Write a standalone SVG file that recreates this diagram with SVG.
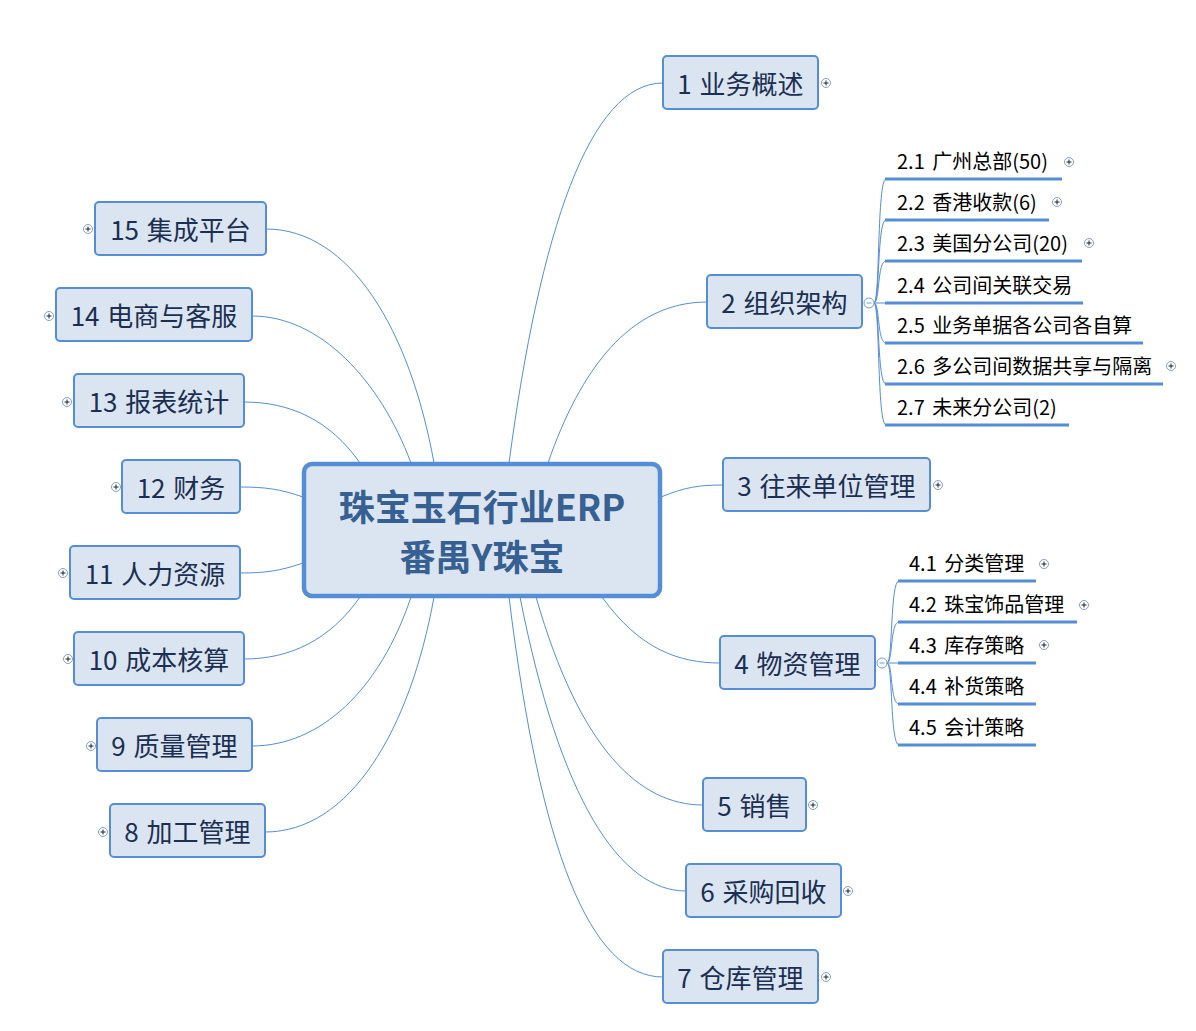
<svg xmlns="http://www.w3.org/2000/svg" xmlns:xlink="http://www.w3.org/1999/xlink" width="1196" height="1031" viewBox="0 0 1196 1031">
<style>
.bg{fill:#ffffff}
.box{fill:#dbe5f1;stroke:#558ed5;stroke-width:2}
.root{fill:#dbe5f1;stroke:#558ed5;stroke-width:4.5}
.rt{font-family:"Noto Sans CJK SC","Microsoft YaHei",sans-serif;font-weight:bold;font-size:36px;fill:#376092;text-anchor:middle}
.nt{font-family:"Noto Sans CJK SC","Microsoft YaHei",sans-serif;font-size:26px;fill:#1b2f52;text-anchor:middle;word-spacing:2px}
.st{font-family:"Noto Sans CJK SC","Microsoft YaHei",sans-serif;font-size:20px;fill:#000000;word-spacing:3px}
.con{fill:none;stroke:#558ed5;stroke-width:1}
.ul{stroke:#558ed5;stroke-width:3}
</style>
<defs>
<g id="plus"><circle r="4.5" fill="#ffffff" stroke="#7f9fcc" stroke-width="1"/><path d="M-2.5,0H2.5M0,-2.5V2.5" stroke="#222222" stroke-width="1"/></g>
<g id="minus"><circle r="5" fill="#ffffff" stroke="#6f9bd6" stroke-width="1"/><path d="M-2.5,0H2.5" stroke="#6f9bd6" stroke-width="1"/></g>
</defs>
<rect class="bg" x="0" y="0" width="1196" height="1031"/>
<g id="connectors">
<path class="con" d="M509,463 C540,230 590,83 663,83"/>
<path class="con" d="M548,463 C580,370 630,302 707,302"/>
<path class="con" d="M661,497 C685,487 700,485 723,485"/>
<path class="con" d="M602,597 C640,650 680,663 720,663"/>
<path class="con" d="M536,597 C580,750 640,805 703,805"/>
<path class="con" d="M520,597 C560,800 620,891 686,891"/>
<path class="con" d="M509,597 C540,850 590,977 663,977"/>
<path class="con" d="M434,463 C410,330 350,229 266,229"/>
<path class="con" d="M411,463 C380,380 320,316 252,316"/>
<path class="con" d="M360,463 C330,420 290,402 244,402"/>
<path class="con" d="M303,497 C280,489 265,487 240,487"/>
<path class="con" d="M303,563 C280,571 265,573 240,573"/>
<path class="con" d="M360,597 C330,640 290,659 244,659"/>
<path class="con" d="M411,597 C380,690 320,746 252,746"/>
<path class="con" d="M434,597 C410,730 350,832 265,832"/>
<path class="con" d="M874,303 C880,303 877,179 886,179"/>
<path class="con" d="M874,303 C880,303 877,220 886,220"/>
<path class="con" d="M874,303 C880,303 877,261 886,261"/>
<path class="con" d="M874,303 L886,303"/>
<path class="con" d="M874,303 C880,303 877,343 886,343"/>
<path class="con" d="M874,303 C880,303 877,384 886,384"/>
<path class="con" d="M874,303 C880,303 877,425 886,425"/>
<path class="con" d="M887,663 C893,663 890,581 899,581"/>
<path class="con" d="M887,663 C893,663 890,622 899,622"/>
<path class="con" d="M887,663 L899,663"/>
<path class="con" d="M887,663 C893,663 890,704 899,704"/>
<path class="con" d="M887,663 C893,663 890,745 899,745"/>
</g>
<g id="root">
<rect class="root" x="304" y="464" width="356" height="132" rx="8"/>
<text class="rt" x="482" y="521">珠宝玉石行业ERP</text>
<text class="rt" x="482" y="571">番禺Y珠宝</text>
</g>
<g id="n1"><rect class="box" x="663" y="56" width="155" height="53" rx="4"/><text class="nt" x="740.5" y="94">1 业务概述</text><use xlink:href="#plus" x="826" y="83"/></g>
<g id="n2"><rect class="box" x="707" y="275" width="155" height="53" rx="4"/><text class="nt" x="784.5" y="313">2 组织架构</text><use xlink:href="#minus" x="869" y="303"/></g>
<g id="n3"><rect class="box" x="723" y="458" width="207" height="53" rx="4"/><text class="nt" x="826.5" y="496">3 往来单位管理</text><use xlink:href="#plus" x="938" y="485"/></g>
<g id="n4"><rect class="box" x="720" y="636" width="155" height="53" rx="4"/><text class="nt" x="797.5" y="674">4 物资管理</text><use xlink:href="#minus" x="882" y="663"/></g>
<g id="n5"><rect class="box" x="703" y="778" width="103" height="53" rx="4"/><text class="nt" x="754.5" y="816">5 销售</text><use xlink:href="#plus" x="813" y="805"/></g>
<g id="n6"><rect class="box" x="686" y="864" width="155" height="53" rx="4"/><text class="nt" x="763.5" y="902">6 采购回收</text><use xlink:href="#plus" x="848" y="891"/></g>
<g id="n7"><rect class="box" x="663" y="950" width="155" height="53" rx="4"/><text class="nt" x="740.5" y="988">7 仓库管理</text><use xlink:href="#plus" x="826" y="977"/></g>
<g id="n8"><rect class="box" x="110" y="804" width="155" height="53" rx="4"/><text class="nt" x="187.5" y="842">8 加工管理</text><use xlink:href="#plus" x="103" y="832"/></g>
<g id="n9"><rect class="box" x="97" y="718" width="155" height="53" rx="4"/><text class="nt" x="174.5" y="756">9 质量管理</text><use xlink:href="#plus" x="91" y="746"/></g>
<g id="n10"><rect class="box" x="74" y="632" width="170" height="53" rx="4"/><text class="nt" x="159" y="670">10 成本核算</text><use xlink:href="#plus" x="68" y="659"/></g>
<g id="n11"><rect class="box" x="70" y="546" width="170" height="53" rx="4"/><text class="nt" x="155" y="584">11 人力资源</text><use xlink:href="#plus" x="63" y="573"/></g>
<g id="n12"><rect class="box" x="122" y="460" width="118" height="53" rx="4"/><text class="nt" x="181" y="498">12 财务</text><use xlink:href="#plus" x="116" y="487"/></g>
<g id="n13"><rect class="box" x="74" y="374" width="170" height="53" rx="4"/><text class="nt" x="159" y="412">13 报表统计</text><use xlink:href="#plus" x="67" y="402"/></g>
<g id="n14"><rect class="box" x="56" y="288" width="196" height="53" rx="4"/><text class="nt" x="154" y="326">14 电商与客服</text><use xlink:href="#plus" x="49" y="316"/></g>
<g id="n15"><rect class="box" x="95" y="202" width="171" height="53" rx="4"/><text class="nt" x="180.5" y="240">15 集成平台</text><use xlink:href="#plus" x="88" y="229"/></g>
<g id="n2-1"><line class="ul" x1="885" y1="179" x2="1062" y2="179"/><text class="st" x="897" y="169">2.1 广州总部(50)</text><use xlink:href="#plus" x="1069" y="162"/></g>
<g id="n2-2"><line class="ul" x1="885" y1="220" x2="1049" y2="220"/><text class="st" x="897" y="210">2.2 香港收款(6)</text><use xlink:href="#plus" x="1057" y="202"/></g>
<g id="n2-3"><line class="ul" x1="885" y1="261" x2="1082" y2="261"/><text class="st" x="897" y="251">2.3 美国分公司(20)</text><use xlink:href="#plus" x="1089" y="243"/></g>
<g id="n2-4"><line class="ul" x1="885" y1="303" x2="1083" y2="303"/><text class="st" x="897" y="293">2.4 公司间关联交易</text></g>
<g id="n2-5"><line class="ul" x1="885" y1="343" x2="1143" y2="343"/><text class="st" x="897" y="333">2.5 业务单据各公司各自算</text></g>
<g id="n2-6"><line class="ul" x1="885" y1="384" x2="1163" y2="384"/><text class="st" x="897" y="374">2.6 多公司间数据共享与隔离</text><use xlink:href="#plus" x="1171" y="366"/></g>
<g id="n2-7"><line class="ul" x1="885" y1="425" x2="1069" y2="425"/><text class="st" x="897" y="415">2.7 未来分公司(2)</text></g>
<g id="n4-1"><line class="ul" x1="898" y1="581" x2="1036" y2="581"/><text class="st" x="909" y="571">4.1 分类管理</text><use xlink:href="#plus" x="1044" y="564"/></g>
<g id="n4-2"><line class="ul" x1="898" y1="622" x2="1077" y2="622"/><text class="st" x="909" y="612">4.2 珠宝饰品管理</text><use xlink:href="#plus" x="1084" y="605"/></g>
<g id="n4-3"><line class="ul" x1="898" y1="663" x2="1036" y2="663"/><text class="st" x="909" y="653">4.3 库存策略</text><use xlink:href="#plus" x="1044" y="645"/></g>
<g id="n4-4"><line class="ul" x1="898" y1="704" x2="1036" y2="704"/><text class="st" x="909" y="694">4.4 补货策略</text></g>
<g id="n4-5"><line class="ul" x1="898" y1="745" x2="1036" y2="745"/><text class="st" x="909" y="735">4.5 会计策略</text></g>
</svg>
